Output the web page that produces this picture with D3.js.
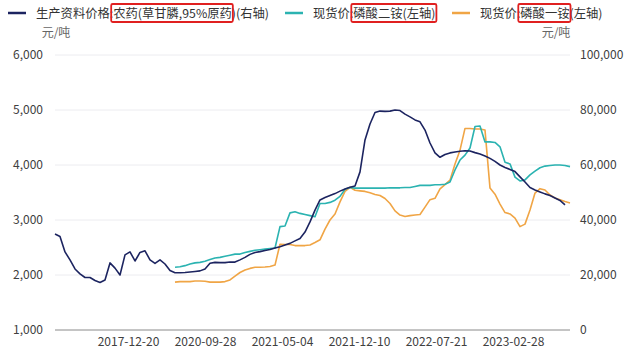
<!DOCTYPE html>
<html><head><meta charset="utf-8">
<script src="https://cdn.jsdelivr.net/npm/d3@7/dist/d3.min.js"></script>
<style>
html,body{margin:0;padding:0;background:#fff;}
svg{display:block;font-family:"Noto Sans CJK SC","Noto Sans",sans-serif;}
</style></head>
<body>
<svg id="chart" width="640" height="357"></svg>
<script>
// Series values, index-based category axis (null = no data)
const glyphosate = [34900,34000,28400,25500,22200,20400,19100,19100,18000,17300,
18200,24400,22500,20000,27300,28400,25100,28200,28800,25500,
24200,25500,24000,21600,20800,20800,20900,21100,21300,21500,
22200,24300,24600,24500,24500,24700,24700,25500,26400,27500,
28200,28500,28900,29300,29800,30300,30900,31500,32400,33300,
35600,39300,43600,47300,48200,48900,49600,50500,51300,51900,
52400,57500,69100,74900,79100,79600,79500,79600,80000,79800,
78500,77500,76400,75700,72700,68000,64400,62800,63800,64400,
64700,65000,65200,65100,64500,64000,63300,62400,61300,60000,
59100,58400,57600,55700,53800,51800,50900,50200,49500,48900,
48000,47100,45500,null];
const dap = [null,null,null,null,null,null,null,null,null,null,
null,null,null,null,null,null,null,null,null,null,
null,null,null,null,2140,2150,2170,2200,2220,2230,
2250,2280,2310,2320,2340,2360,2380,2380,2410,2430,
2450,2460,2470,2480,2490,2880,2890,3130,3150,3120,
3100,3080,3060,3300,3300,3320,3360,3430,3560,3590,
3580,3580,3580,3580,3580,3580,3580,3585,3585,3585,
3590,3590,3610,3630,3630,3630,3640,3640,3650,3690,
3910,4090,4180,4310,4700,4710,4420,4420,4410,4330,
4050,4020,3780,3710,3730,3820,3890,3950,3980,3990,
4000,4000,3990,3970];
const map = [null,null,null,null,null,null,null,null,null,null,
null,null,null,null,null,null,null,null,null,null,
null,null,null,null,1870,1880,1880,1880,1890,1890,
1885,1870,1870,1870,1880,1910,1980,2045,2090,2120,
2140,2140,2145,2155,2180,2560,2555,2555,2535,2535,
2535,2545,2590,2640,2835,3000,3110,3330,3520,3595,
3540,3530,3520,3495,3465,3445,3390,3300,3165,3090,
3065,3080,3090,3100,3235,3370,3395,3565,3645,3725,
4020,4270,4665,4665,4655,4655,4635,3580,3470,3290,
3135,3110,3035,2880,2925,3180,3490,3570,3545,3455,
3400,3370,3335,3310];
const xTickIndex = [14.6, 30.0, 45.4, 60.8, 76.2, 91.6];
const xTickLabels = ["2017-12-20","2020-09-28","2021-05-04","2021-12-10","2022-07-21","2023-02-28"];
const leftTicks = [1000,2000,3000,4000,5000,6000];
const rightTicks = [0,20000,40000,60000,80000,100000];
const legendItems = [
  {name:"生产资料价格:农药(草甘膦,95%原药)(右轴)", color:"#1c2460", boxFrom:"农药", boxTo:"原药"},
  {name:"现货价:磷酸二铵(左轴)", color:"#2bb3b1", boxFrom:"磷酸", boxTo:"轴)"},
  {name:"现货价:磷酸一铵(左轴)", color:"#f0a545", boxFrom:"磷酸", boxTo:"一铵"}
];

const svg = d3.select("#chart");
const L = 55, R = 570, T = 55, B = 330;
const n = glyphosate.length;
const x = d3.scaleLinear().domain([0, n-1]).range([L, R]);
const yL = d3.scaleLinear().domain([1000,6000]).range([B, T]);
const yR = d3.scaleLinear().domain([0,100000]).range([B, T]);

// grid
svg.append("g").selectAll("line").data(leftTicks.slice(1)).join("line")
  .attr("x1",L).attr("x2",R).attr("y1",d=>yL(d)).attr("y2",d=>yL(d))
  .attr("stroke","#ececf0").attr("stroke-width",1);
// bottom axis line
svg.append("line").attr("x1",L).attr("x2",R).attr("y1",B).attr("y2",B)
  .attr("stroke","#8a8a8a").attr("stroke-width",1);

// left axis labels
const leftAxis = d3.axisLeft(yL).tickValues(leftTicks).tickSize(0).tickPadding(0).tickFormat(d3.format(","));
const gl = svg.append("g").attr("transform",`translate(43,0)`).call(leftAxis);
gl.select(".domain").remove();
gl.selectAll("text").attr("font-size",12).attr("fill","#404040").attr("font-family","'Noto Sans CJK SC','Noto Sans',sans-serif");

const rightAxis = d3.axisRight(yR).tickValues(rightTicks).tickSize(0).tickPadding(0).tickFormat(d3.format(","));
const gr = svg.append("g").attr("transform",`translate(580,0)`).call(rightAxis);
gr.select(".domain").remove();
gr.selectAll("text").attr("font-size",12).attr("fill","#404040").attr("font-family","'Noto Sans CJK SC','Noto Sans',sans-serif");

// x axis labels
const bottomAxis = d3.axisBottom(x).tickValues(xTickIndex).tickSize(0).tickPadding(0)
  .tickFormat((d,i)=>xTickLabels[i]);
const gb = svg.append("g").attr("transform",`translate(0,${B+7})`).call(bottomAxis);
gb.select(".domain").remove();
gb.selectAll("text").attr("font-size",12).attr("fill","#404040").attr("font-family","'Noto Sans CJK SC','Noto Sans',sans-serif");

// unit labels
svg.append("text").attr("x",56).attr("y",37).attr("text-anchor","middle").attr("font-size",12).attr("fill","#666").text("元/吨");
svg.append("text").attr("x",556).attr("y",37).attr("text-anchor","middle").attr("font-size",12).attr("fill","#666").text("元/吨");

// lines
const lineL = d3.line().defined(d=>d!=null).x((d,i)=>x(i)).y(d=>yL(d)).curve(d3.curveLinear);
const lineR = d3.line().defined(d=>d!=null).x((d,i)=>x(i)).y(d=>yR(d)).curve(d3.curveLinear);
svg.append("path").datum(map).attr("d",lineL).attr("fill","none").attr("stroke",legendItems[2].color).attr("stroke-width",1.6).attr("stroke-linejoin","round");
svg.append("path").datum(dap).attr("d",lineL).attr("fill","none").attr("stroke",legendItems[1].color).attr("stroke-width",1.6).attr("stroke-linejoin","round");
svg.append("path").datum(glyphosate).attr("d",lineR).attr("fill","none").attr("stroke",legendItems[0].color).attr("stroke-width",1.6).attr("stroke-linejoin","round");

// legend
const legendX = [8, 285, 452];
legendItems.forEach((it,k)=>{
  const g = svg.append("g").attr("transform",`translate(${legendX[k]},13)`);
  g.append("line").attr("x1",0).attr("x2",18).attr("y1",0).attr("y2",0).attr("stroke",it.color).attr("stroke-width",2.5);
  const t = g.append("text").attr("x",28).attr("y",4.5).attr("font-size",12.3).attr("fill","#333").text(it.name);
  const node = t.node();
  const s = it.name.indexOf(it.boxFrom);
  const e = it.name.indexOf(it.boxTo) + it.boxTo.length - 1;
  const b1 = node.getExtentOfChar(s), b2 = node.getExtentOfChar(e);
  g.append("rect").attr("x",b1.x-2).attr("y",-9).attr("width",b2.x+b2.width-b1.x+3).attr("height",18)
    .attr("fill","none").attr("stroke","#e02020").attr("stroke-width",1.8).attr("rx",1.5);
});
</script>
</body></html>
